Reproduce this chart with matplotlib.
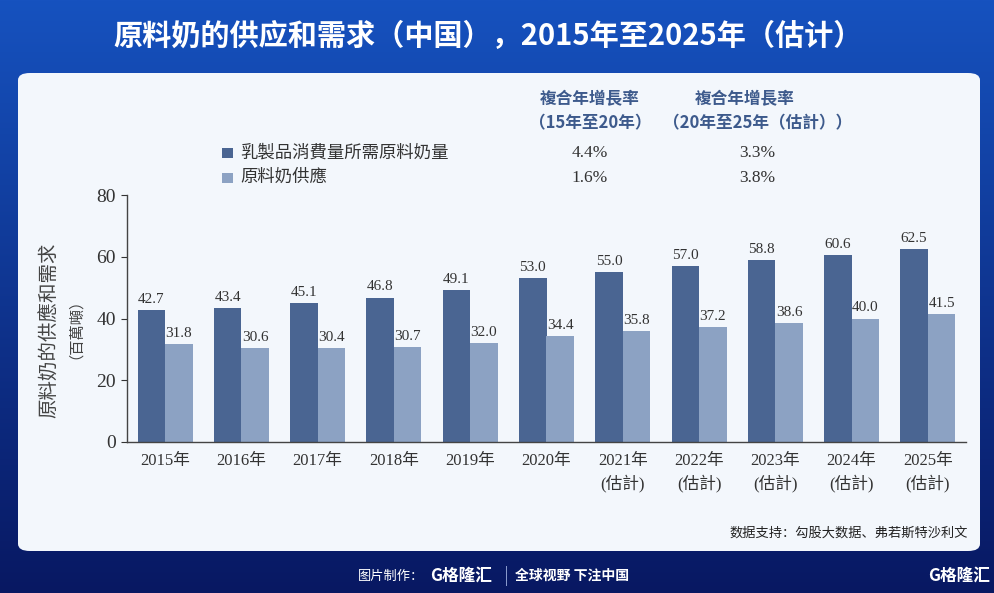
"""Raw milk supply and demand in China, 2015-2025E."""
import matplotlib.pyplot as plt
import numpy as np
from matplotlib.patches import FancyBboxPatch, Rectangle

W, H = 995, 593

years = ["2015年", "2016年", "2017年", "2018年", "2019年", "2020年",
         "2021年\n(估計)", "2022年\n(估計)", "2023年\n(估計)", "2024年\n(估計)", "2025年\n(估計)"]
demand = [42.7, 43.4, 45.1, 46.8, 49.1, 53.0, 55.0, 57.0, 58.8, 60.6, 62.5]
supply = [31.8, 30.6, 30.4, 30.7, 32.0, 34.4, 35.8, 37.2, 38.6, 40.0, 41.5]
series_names = ["乳製品消費量所需原料奶量", "原料奶供應"]
cagr_15_20 = ["4.4%", "1.6%"]
cagr_20_25 = ["3.3%", "3.8%"]

DARK = "#4a6592"
LIGHT = "#8ca2c3"
SERIF = ["Liberation Serif", "Noto Sans CJK TC"]
CJK = ["Noto Sans CJK SC", "DejaVu Sans"]


def px(x, y):
    # pixel coords (top-left origin) -> figure fraction
    return x / W, 1 - y / H


fig = plt.figure(figsize=(W / 100, H / 100), dpi=100)

# background gradient + white panel
bg = fig.add_axes([0, 0, 1, 1])
grad = np.linspace(0, 1, 256).reshape(-1, 1)
top = np.array([0x16, 0x52, 0xbf]) / 255
bot = np.array([0x08, 0x18, 0x62]) / 255
img = top + (bot - top) * grad[..., None]
bg.imshow(img, aspect="auto", extent=[0, 1, 0, 1])
panel = FancyBboxPatch(px(18, 551), 962 / W, 478 / H,
                       boxstyle="round,pad=0,rounding_size=0.012",
                       transform=bg.transAxes, fc="#f3f7fc", ec="none")
bg.add_patch(panel)
bg.set_xlim(0, 1)
bg.set_ylim(0, 1)
bg.axis("off")

fig.text(*px(488, 36), "原料奶的供应和需求（中国），2015年至2025年（估计）",
         color="white", fontsize=21, fontweight="bold", family=CJK,
         ha="center", va="center")

# bar chart
x0, x1, y0, y1 = 127, 966, 442, 195
ax = fig.add_axes([x0 / W, 1 - y0 / H, (x1 - x0) / W, (y0 - y1) / H])
ax.set_facecolor("none")
x = np.arange(len(years))
bw = 0.36
b1 = ax.bar(x - bw / 2, demand, bw, color=DARK)
b2 = ax.bar(x + bw / 2, supply, bw, color=LIGHT)
for bars, vals in ((b1, demand), (b2, supply)):
    for r, v in zip(bars, vals):
        ax.text(r.get_x() + r.get_width() / 2, v + 1.3, f"{v:.1f}",
                ha="center", va="bottom", fontsize=11, color="#333333", family=SERIF)
ax.set_xlim(-0.5, len(years) - 0.5)
ax.set_ylim(0, 80)
ax.set_yticks([0, 20, 40, 60, 80])
ax.set_xticks(x)
ax.set_xticklabels(years, family=SERIF, fontsize=12, color="#333333", linespacing=1.4)
ax.tick_params(axis="x", length=0, pad=8)
ax.tick_params(axis="y", length=4, labelsize=14, colors="#333333", pad=4)
for lab in ax.get_yticklabels():
    lab.set_family(SERIF)
for s in ("top", "right"):
    ax.spines[s].set_visible(False)
for s in ("left", "bottom"):
    ax.spines[s].set_color("#444444")
    ax.spines[s].set_linewidth(1.0)

fig.text(*px(49, 330), "原料奶的供應和需求", rotation=90, fontsize=14,
         color="#444444", family=SERIF, ha="center", va="center")
fig.text(*px(68, 321), "（百萬噸）", rotation=90, fontsize=11,
         color="#444444", family=SERIF, ha="center", va="center")

# legend with CAGR table
HEAD = "#3d5a8c"
fig.text(*px(590, 99), "複合年增長率", fontsize=12, fontweight="bold", style="italic",
         color=HEAD, family=CJK, ha="center", va="center")
fig.text(*px(590, 123), "（15年至20年）", fontsize=12, fontweight="bold", style="italic",
         color=HEAD, family=CJK, ha="center", va="center")
fig.text(*px(745, 99), "複合年增長率", fontsize=12, fontweight="bold", style="italic",
         color=HEAD, family=CJK, ha="center", va="center")
fig.text(*px(758, 123), "（20年至25年（估計））", fontsize=12, fontweight="bold", style="italic",
         color=HEAD, family=CJK, ha="center", va="center")
for i, (name, c) in enumerate(zip(series_names, (DARK, LIGHT))):
    yy = 153 + i * 25
    fig.patches.append(Rectangle(px(222, yy + 5), 11 / W, 10 / H,
                                 transform=fig.transFigure, fc=c, ec="none"))
    fig.text(*px(240, yy), name, fontsize=12.5, color="#333333", family=SERIF, va="center")
    fig.text(*px(590, yy), cagr_15_20[i], fontsize=12.5, color="#333333",
             family=SERIF, ha="center", va="center")
    fig.text(*px(757, yy), cagr_20_25[i], fontsize=12.5, color="#333333",
             family=SERIF, ha="center", va="center")

fig.text(*px(968, 533), "数据支持：勾股大数据、弗若斯特沙利文", fontsize=9.5,
         color="#222222", family=CJK, ha="right", va="center")

# footer
fig.text(*px(358, 576), "图片制作：", fontsize=9.5, color="white", family=CJK, va="center")
fig.text(*px(430, 576), "G格隆汇", fontsize=12, fontweight="bold", color="white",
         family=CJK, va="center")
fig.patches.append(Rectangle(px(506, 586), 1 / W, 20 / H, transform=fig.transFigure,
                             fc="#8899cc", ec="none"))
fig.text(*px(515, 576), "全球视野 下注中国", fontsize=10, fontweight="bold", color="white",
         family=CJK, va="center")
fig.text(*px(990, 576), "G格隆汇", fontsize=12, fontweight="bold", color="white",
         family=CJK, ha="right", va="center")

fig.savefig("out.png", dpi=100)
